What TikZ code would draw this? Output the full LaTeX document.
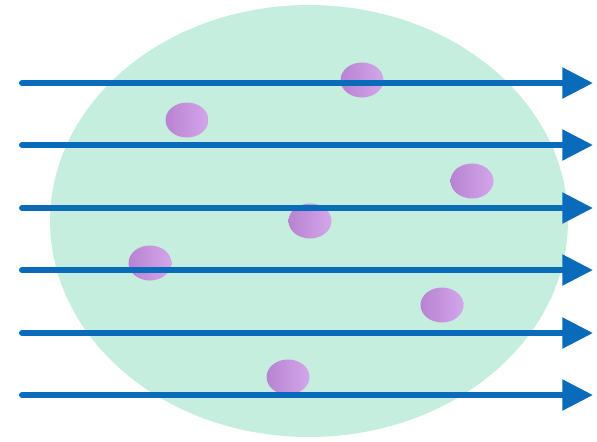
\documentclass[tikz,border=0pt]{standalone}
\usepackage{tikz}
\usetikzlibrary{arrows.meta, shapes.geometric}
\definecolor{cellgreen}{HTML}{C6EEDF}
\definecolor{rayblue}{HTML}{0B6BBB}
\definecolor{dotleft}{HTML}{B883D1}
\definecolor{dotright}{HTML}{D3A6EA}
\tikzset{
  ray/.style={draw=rayblue, line width=3.4pt, line cap=round,
    -{Triangle[length=17.5pt, width=17pt]}},
  particle/.style={ellipse, minimum width=0.86cm, minimum height=0.7cm,
    inner sep=0pt, left color=dotleft, right color=dotright, draw=none}
}

\begin{document}
\begin{tikzpicture}[x=0.02cm, y=-0.02cm]
    \useasboundingbox (0,0) rectangle (597,441);
    % medium
    \fill[cellgreen] (309,221) ellipse [x radius=5.18cm, y radius=4.32cm];

    % particles
    \node[particle] (d1) at (187,120) {};
    \node[particle] (d2) at (362,80) {};
    \node[particle] (d3) at (472,181) {};
    \node[particle] (d4) at (310,221) {};
    \node[particle] (d5) at (150,263) {};
    \node[particle] (d6) at (442,305) {};
    \node[particle] (d7) at (288,377) {};

    % rays
    \foreach \i/\y in {1/83, 2/145, 3/208, 4/270, 5/333, 6/395} {
      \coordinate (s\i) at (22,\y);
      \coordinate (e\i) at (593,\y);
      \draw[ray] (s\i) -- (e\i);
    }
\end{tikzpicture}
\end{document}
